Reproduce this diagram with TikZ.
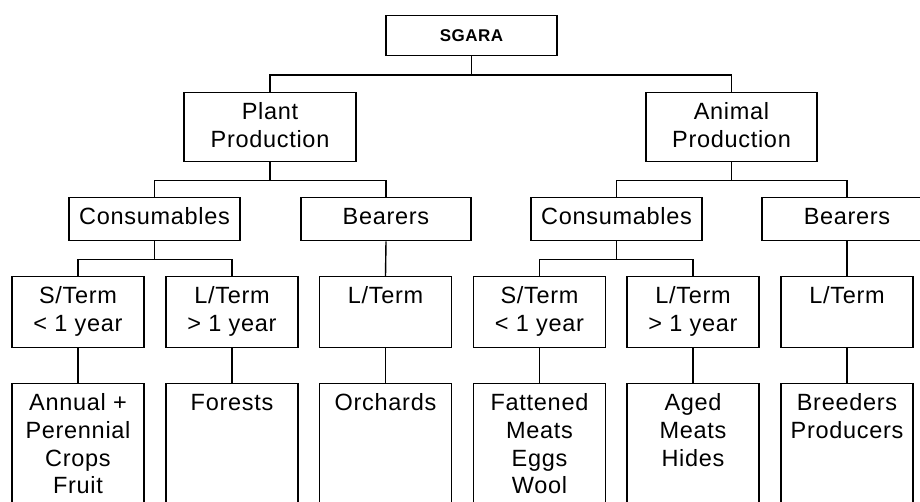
\documentclass[tikz,border=0pt]{standalone}
\usepackage{fontspec}
\setmainfont{Liberation Sans}[LetterSpace=3]
% fixed-size cell with its text hung from the top edge
\newcommand{\cell}[3]{\parbox[c][#2][t]{#1}{\centering\vspace*{7.6pt}\strut#3}}
\begin{document}
\begin{tikzpicture}[x=1pt,y=-1pt,
  every node/.style={font=\fontsize{23.5}{27.7}\selectfont},
  box/.style={draw, line width=1.4pt, inner sep=0pt, anchor=north},
  link/.style={line width=1.4pt}]
\useasboundingbox (0,0) rectangle (920,502);
\clip (0,0) rectangle (920,502);

% root
\node[box, font=\bfseries\fontsize{17}{20}\selectfont] (sgara) at (471.5,15)
  {\parbox[c][40pt][c]{171pt}{\centering SGARA}};

% production branches
\node[box] (plant)  at (270,92)   {\cell{172pt}{69pt}{Plant\\Production}};
\node[box] (animal) at (731.5,92) {\cell{171pt}{69pt}{Animal\\Production}};

% asset classes
\node[box] (pcons) at (154.5,197) {\cell{171pt}{43pt}{Consumables}};
\node[box] (pbear) at (386,197)   {\cell{170pt}{43pt}{Bearers}};
\node[box] (acons) at (616.5,197) {\cell{171pt}{43pt}{Consumables}};
\node[box] (abear) at (847,197)   {\cell{170pt}{43pt}{Bearers}};

% terms
\node[box] (pst) at (78,276)    {\cell{132pt}{71pt}{S/Term\\< 1 year}};
\node[box] (plt) at (232,276)   {\cell{132pt}{71pt}{L/Term\\> 1 year}};
\node[box] (pbl) at (385.5,276) {\cell{132pt}{71pt}{L/Term}};
\node[box] (ast) at (539.5,276) {\cell{132pt}{71pt}{S/Term\\< 1 year}};
\node[box] (alt) at (693,276)   {\cell{132pt}{71pt}{L/Term\\> 1 year}};
\node[box] (abl) at (847,276)   {\cell{132pt}{71pt}{L/Term}};

% examples
\node[box] (pstx) at (78,383)    {\cell{132pt}{140pt}{Annual +\\Perennial\\Crops\\Fruit}};
\node[box] (pltx) at (232,383)   {\cell{132pt}{140pt}{Forests}};
\node[box] (pblx) at (385.5,383) {\cell{132pt}{140pt}{Orchards}};
\node[box] (astx) at (539.5,383) {\cell{132pt}{140pt}{Fattened\\Meats\\Eggs\\Wool}};
\node[box] (altx) at (693,383)   {\cell{132pt}{140pt}{Aged\\Meats\\Hides}};
\node[box] (ablx) at (847,383)   {\cell{132pt}{140pt}{Breeders\\Producers}};

% elbow connectors
\draw[link] (sgara.south) -- ++(0,18.5) -| (plant.north);
\draw[link] (sgara.south) -- ++(0,18.5) -| (animal.north);
\draw[link] (plant.south) -- ++(0,18) -| (pcons.north);
\draw[link] (plant.south) -- ++(0,18) -| (pbear.north);
\draw[link] (animal.south) -- ++(0,18) -| (acons.north);
\draw[link] (animal.south) -- ++(0,18) -| (abear.north);
\draw[link] (pcons.south) -- ++(0,18) -| (pst.north);
\draw[link] (pcons.south) -- ++(0,18) -| (plt.north);
\draw[link] (acons.south) -- ++(0,18) -| (ast.north);
\draw[link] (acons.south) -- ++(0,18) -| (alt.north);
\draw[link] (pbear.south) -- (pbl.north);
\draw[link] (abear.south) -- (abl.north);

% straight drops
\draw[link] (pst.south) -- (pstx.north);
\draw[link] (plt.south) -- (pltx.north);
\draw[link] (pbl.south) -- (pblx.north);
\draw[link] (ast.south) -- (astx.north);
\draw[link] (alt.south) -- (altx.north);
\draw[link] (abl.south) -- (ablx.north);
\end{tikzpicture}
\end{document}
